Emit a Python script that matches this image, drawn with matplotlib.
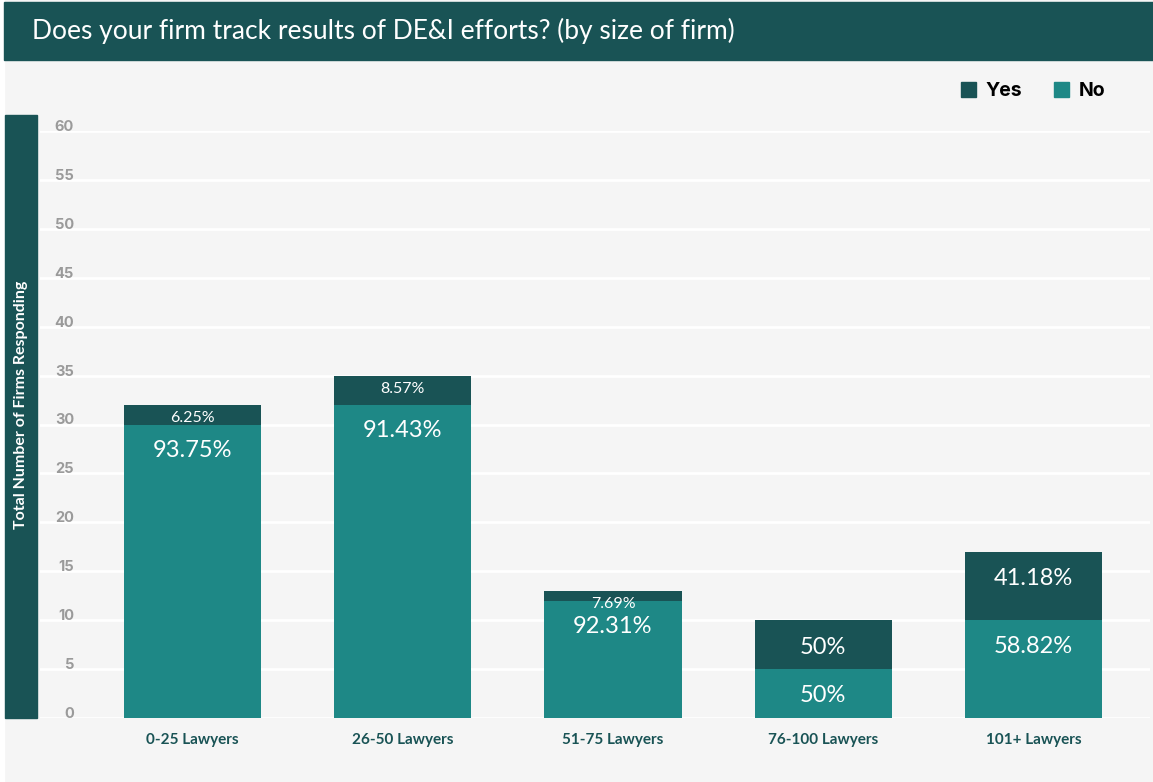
import matplotlib
matplotlib.use("Agg")
import matplotlib.pyplot as plt
from matplotlib.patches import Rectangle, Patch
from matplotlib import transforms
import numpy as np

# data: firms responding by size, split into yes / no
categories = ["0-25 Lawyers", "26-50 Lawyers", "51-75 Lawyers", "76-100 Lawyers", "101+ Lawyers"]
yes_counts = np.array([2, 3, 1, 5, 7])
no_counts = np.array([30, 32, 12, 5, 10])
yes_labels = ["6.25%", "8.57%", "7.69%", "50%", "41.18%"]
no_labels = ["93.75%", "91.43%", "92.31%", "50%", "58.82%"]
y_ticks = np.arange(0, 61, 5)

dark = "#195355"
teal = "#1e8886"
bg = "#f5f5f5"

W, H = 1153, 782
fig = plt.figure(figsize=(W / 100, H / 100), dpi=100, facecolor=bg)

def px_box(x0, y0, x1, y1):
    # pixel box (top-left origin) -> figure fraction rect
    return [x0 / W, 1 - y1 / H, (x1 - x0) / W, (y1 - y0) / H]

# header banner + white edge
fig.patches.append(Rectangle((0, 0), 4 / W, 1, transform=fig.transFigure, color="white", zorder=0))
b = px_box(4, 2, W, 60)
fig.patches.append(Rectangle((b[0], b[1]), b[2], b[3], transform=fig.transFigure, color=dark, zorder=1))
fig.text(32 / W, 1 - 31 / H, "Does your firm track results of DE&I efforts? (by size of firm)",
         color="white", fontsize=19, family="Lato", va="center", ha="left")

# y-axis title strip
s = px_box(5, 115, 37, 718)
fig.patches.append(Rectangle((s[0], s[1]), s[2], s[3], transform=fig.transFigure, color=dark, zorder=1))
fig.text(21 / W, 1 - 405 / H, "Total Number of Firms Responding", rotation=90,
         color="white", fontsize=11.5, fontweight="bold", family="Lato", va="center", ha="center")

ax = fig.add_axes(px_box(40, 131, 1150, 718))
ax.set_facecolor(bg)
x = np.arange(len(categories))
width = 0.652

ax.bar(x, no_counts, width, color=teal, zorder=3)
ax.bar(x, yes_counts, width, bottom=no_counts, color=dark, zorder=3)

ax.set_xlim(-0.725, 4.554)
ax.set_ylim(0, 60)
ax.set_yticks(y_ticks)
ax.grid(axis="y", color="white", linewidth=2, zorder=1)
ax.tick_params(axis="y", left=False, labelleft=False)
ax.tick_params(axis="x", bottom=False, pad=7)
ax.set_xticks(x)
ax.set_xticklabels(categories, fontsize=11, fontweight="bold", color=dark, family="Lato")
for sp in ax.spines.values():
    sp.set_visible(False)

# y tick labels sit on top of their gridline, inside the plot
tr = transforms.blended_transform_factory(ax.transAxes, ax.transData)
for t in y_ticks:
    ax.annotate(str(t), (0.0306, t), xycoords=tr, xytext=(0, -3), textcoords="offset pixels",
                ha="right", va="bottom", fontsize=10.5, fontweight="bold",
                color="#9a9a9a", family="Inter", zorder=4)

# percentage labels, anchored below the top of each segment
for i in range(len(categories)):
    no_top = no_counts[i]
    ax.annotate(no_labels[i], (x[i], no_top), xytext=(0, -26), textcoords="offset pixels",
                ha="center", va="center", color="white", fontsize=17, family="Lato", zorder=5)
    yes_top = no_counts[i] + yes_counts[i]
    if yes_counts[i] >= 4:
        off, fs = -27, 17
    else:
        off, fs = -13, 11.5
    ax.annotate(yes_labels[i], (x[i], yes_top), xytext=(0, off), textcoords="offset pixels",
                ha="center", va="center", color="white", fontsize=fs, family="Lato", zorder=5)

handles = [Patch(color=dark, label="Yes"), Patch(color=teal, label="No")]
fig.legend(handles=handles, loc="center right", bbox_to_anchor=(1123 / W, 1 - 91 / H),
           ncol=2, frameon=False, handlelength=0.8, handleheight=0.8, handletextpad=0.5,
           columnspacing=1.6, prop={"family": "Inter", "weight": "bold", "size": 14})

fig.savefig("out.png", dpi=100, facecolor=bg)
